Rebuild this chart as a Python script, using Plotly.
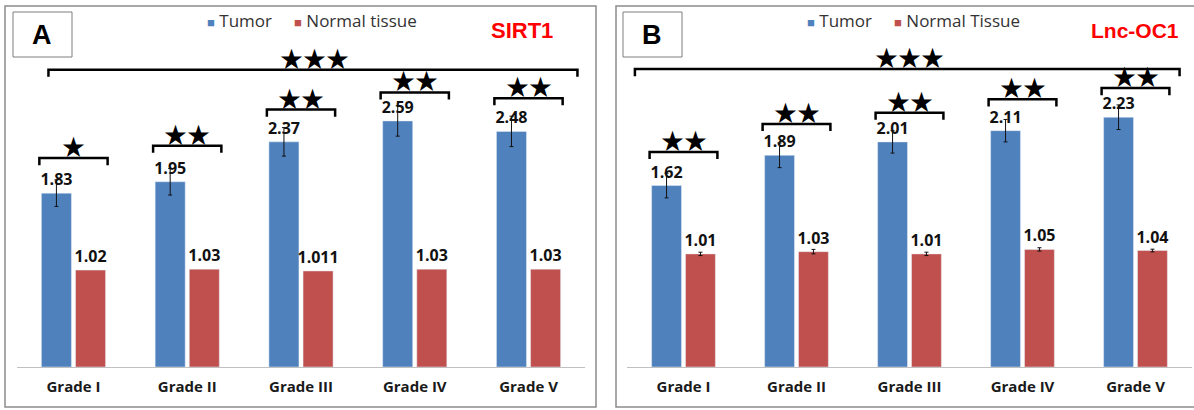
import plotly.graph_objects as go

W, H = 1194, 410

categories = ["Grade I", "Grade II", "Grade III", "Grade IV", "Grade V"]

# Panel A: SIRT1
a_tumor = [1.83, 1.95, 2.37, 2.59, 2.48]
a_tumor_err = [0.14, 0.14, 0.15, 0.16, 0.16]
a_normal = [1.02, 1.03, 1.011, 1.03, 1.03]
a_normal_labels = ["1.02", "1.03", "1.011", "1.03", "1.03"]
a_tumor_labels = ["1.83", "1.95", "2.37", "2.59", "2.48"]
a_stars = ["★", "★★", "★★", "★★", "★★"]
a_bracket_y = [2.20, 2.33, 2.71, 2.89, 2.83]
a_overall_y = 3.13

# Panel B: Lnc-OC1
b_tumor = [1.62, 1.89, 2.01, 2.11, 2.23]
b_tumor_err = [0.11, 0.11, 0.10, 0.10, 0.11]
b_normal = [1.01, 1.03, 1.01, 1.05, 1.04]
b_normal_err = [0.015, 0.02, 0.015, 0.015, 0.012]
b_tumor_labels = ["1.62", "1.89", "2.01", "2.11", "2.23"]
b_normal_labels = ["1.01", "1.03", "1.01", "1.05", "1.04"]
b_stars = ["★★", "★★", "★★", "★★", "★★"]
b_bracket_y = [1.92, 2.17, 2.27, 2.39, 2.49]
b_overall_y = 2.66

BLUE = "#4F81BD"
RED = "#C0504D"
LABEL_FONT = dict(family="Open Sans", size=16, color="#111111", weight="bold")

xs = list(range(len(categories)))

def px(x):
    return x / W

def py(y):
    return 1 - y / H

fig = go.Figure()

def add_bars(xaxis, yaxis, tumor, terr, tlab, normal, nerr, nlab, normal_name):
    fig.add_trace(go.Bar(
        x=xs, y=tumor, name="Tumor", marker_color=BLUE,
        error_y=dict(type="data", array=terr, color="#111111", thickness=1, width=2),
        text=tlab, textposition="outside", textfont=LABEL_FONT,
        constraintext="none", cliponaxis=False, showlegend=False,
        xaxis=xaxis, yaxis=yaxis, offsetgroup="t",
    ))
    err = dict(type="data", array=nerr, color="#111111", thickness=1, width=2) if nerr else None
    fig.add_trace(go.Bar(
        x=xs, y=normal, name=normal_name, marker_color=RED,
        error_y=err,
        text=nlab, textposition="outside", textfont=LABEL_FONT,
        constraintext="none", cliponaxis=False, showlegend=False,
        xaxis=xaxis, yaxis=yaxis, offsetgroup="n",
    ))

add_bars("x", "y", a_tumor, a_tumor_err, a_tumor_labels,
         a_normal, None, a_normal_labels, "Normal tissue")
add_bars("x2", "y2", b_tumor, b_tumor_err, b_tumor_labels,
         b_normal, b_normal_err, b_normal_labels, "Normal Tissue")

shapes = []
annotations = []

def bracket(xref, yref, x0, x1, y, drop):
    path = (f"M {x0},{y - drop} L {x0},{y} L {x1},{y} L {x1},{y - drop}")
    shapes.append(dict(type="path", path=path, xref=xref, yref=yref,
                       line=dict(color="#000000", width=2.5)))

def stars(xref, yref, x, y, txt):
    annotations.append(dict(x=x, y=y, xref=xref, yref=yref, text=txt,
                            showarrow=False, xanchor="center", yanchor="bottom", yshift=-6,
                            font=dict(family="Noto Sans CJK SC", size=23, color="#000000")))

hw = 0.30
for i, (s, by) in enumerate(zip(a_stars, a_bracket_y)):
    bracket("x", "y", i - hw, i + hw, by, 0.075)
    stars("x", "y", i, by, s)
bracket("x", "y", -0.22, 4.43, a_overall_y, 0.075)
stars("x", "y", 2.12, a_overall_y, "★★★")

for i, (s, by) in enumerate(zip(b_stars, b_bracket_y)):
    bracket("x2", "y2", i - hw, i + hw, by, 0.063)
    stars("x2", "y2", i, by, s)
bracket("x2", "y2", -0.43, 4.39, b_overall_y, 0.063)
stars("x2", "y2", 2.0, b_overall_y, "★★★")

# panel frames and label boxes
for (x0, x1) in [(5, 596), (616, 1200)]:
    shapes.append(dict(type="rect", xref="paper", yref="paper",
                       x0=px(x0), x1=px(x1), y0=py(407), y1=py(6),
                       line=dict(color="#8c8c8c", width=1.5), layer="below"))
for (x0, x1, t) in [(13, 72, "A"), (623, 682, "B")]:
    shapes.append(dict(type="rect", xref="paper", yref="paper",
                       x0=px(x0), x1=px(x1), y0=py(57), y1=py(12),
                       line=dict(color="#7f7f7f", width=1)))
    annotations.append(dict(x=px((x0 + x1) / 2), y=py(35), xref="paper", yref="paper",
                            text=f"<b>{t}</b>", showarrow=False,
                            xanchor="center", yanchor="middle",
                            font=dict(family="Liberation Sans", size=27, color="#000000")))

for (xc, t, fs) in [(522, "SIRT1", 22), (1135, "Lnc-OC1", 21)]:
    annotations.append(dict(x=px(xc), y=py(31), xref="paper", yref="paper",
                            text=f"<b>{t}</b>", showarrow=False,
                            xanchor="center", yanchor="middle",
                            font=dict(family="Liberation Sans", size=fs, color="#ff0000")))

# legends (one per panel)
LEG_FONT = dict(family="Open Sans", size=17, color="#333333")
for (x0, names) in [(205, ("Tumor", "Normal tissue")), (805, ("Tumor", "Normal Tissue"))]:
    annotations.append(dict(x=px(x0), y=py(20), xref="paper", yref="paper",
                            xanchor="left", yanchor="middle", showarrow=False,
                            text=(f"<span style='color:{BLUE};font-size:13px'>■</span> {names[0]}"
                                  f"&nbsp;&nbsp;&nbsp;&nbsp;&nbsp;<span style='color:{RED};font-size:13px'>■</span> {names[1]}"),
                            font=LEG_FONT))

axis_common = dict(showline=True, linecolor="#c0c0c0", linewidth=1.2,
                   ticks="", showgrid=False, zeroline=False,
                   tickvals=xs, ticktext=categories,
                   tickfont=dict(family="Open Sans", size=15, color="#1a1a1a", weight="bold"),
                   ticklabelstandoff=6)
yaxis_common = dict(showticklabels=False, showgrid=False, zeroline=False,
                    showline=False, ticks="")

fig.update_layout(
    width=W, height=H,
    margin=dict(l=0, r=0, t=0, b=0),
    paper_bgcolor="white", plot_bgcolor="white",
    barmode="group", bargap=0.40, bargroupgap=0.12,
    showlegend=False,
    xaxis=dict(domain=[px(16.6), px(585.4)], range=[-0.5, 4.5], anchor="y", **axis_common),
    yaxis=dict(domain=[py(367), py(8)], range=[0, 359 / 95], anchor="x", **yaxis_common),
    xaxis2=dict(domain=[px(627), px(1192)], range=[-0.5, 4.5], anchor="y2", **axis_common),
    yaxis2=dict(domain=[py(367), py(8)], range=[0, 359 / 112], anchor="x2", **yaxis_common),
    shapes=shapes, annotations=annotations,
)

fig.write_html("out.html", config={"displayModeBar": False},
               post_script="document.body.style.margin='0';document.body.style.overflow='hidden';")
